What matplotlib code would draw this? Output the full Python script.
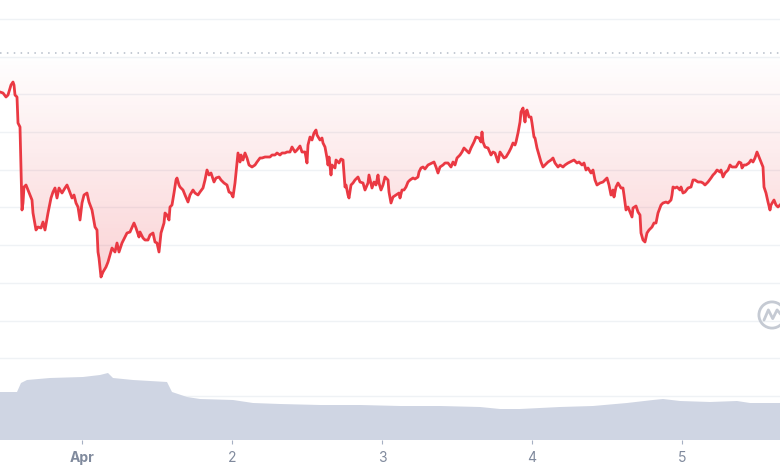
import numpy as np
import matplotlib
matplotlib.use('Agg')
import matplotlib.pyplot as plt
from matplotlib.colors import LinearSegmentedColormap
from matplotlib.patches import Circle

# price series, hours since Apr 1 00:00
hours = [
    -13.12, -12.64, -12.16, -11.84, -11.36, -11.04, -10.88, -10.72, -10.40, -10.24,
    -9.92, -9.76, -9.60, -9.44, -9.28, -8.96, -8.64, -8.00, -7.84, -7.36,
    -7.04, -6.56, -6.24, -5.92, -5.44, -4.96, -4.64, -4.32, -4.00, -3.68,
    -3.20, -2.72, -2.40, -2.08, -1.60, -1.28, -0.96, -0.64, -0.32, 0.00,
    0.32, 0.80, 1.12, 1.60, 2.08, 2.40, 2.56, 2.72, 3.04, 3.36,
    3.84, 4.16, 4.80, 5.28, 5.60, 5.92, 6.40, 6.88, 7.20, 7.68,
    8.32, 8.64, 9.12, 9.28, 9.76, 10.08, 10.56, 10.88, 11.36, 11.68,
    12.00, 12.32, 12.64, 13.12, 13.28, 13.60, 13.92, 14.08, 14.40, 14.72,
    15.04, 15.20, 15.52, 15.68, 16.16, 16.48, 16.96, 17.28, 17.76, 18.08,
    18.56, 18.88, 19.36, 19.68, 20.00, 20.32, 20.64, 21.12, 21.44, 21.92,
    22.24, 22.72, 23.20, 23.52, 23.84, 24.16, 24.48, 24.80, 24.96, 25.28,
    25.44, 25.76, 26.08, 26.40, 26.72, 27.20, 27.68, 28.00, 28.48, 28.80,
    29.28, 29.60, 30.08, 30.40, 30.88, 31.20, 31.68, 32.00, 32.48, 32.80,
    33.28, 33.60, 34.08, 34.40, 34.88, 35.20, 35.68, 36.00, 36.16, 36.48,
    36.80, 37.12, 37.44, 37.60, 38.08, 38.40, 38.56, 38.88, 39.20, 39.36,
    39.52, 39.84, 40.00, 40.48, 40.64, 41.12, 41.44, 41.76, 42.08, 42.24,
    42.56, 42.72, 43.04, 43.36, 43.68, 44.16, 44.48, 44.96, 45.28, 45.76,
    45.92, 46.40, 46.72, 47.04, 47.36, 47.52, 47.84, 48.16, 48.48, 48.96,
    49.12, 49.44, 49.76, 50.24, 50.72, 50.88, 51.20, 51.52, 51.84, 52.16,
    52.48, 52.96, 53.28, 53.76, 53.92, 54.24, 54.56, 54.88, 55.36, 55.68,
    56.00, 56.32, 56.64, 56.96, 57.28, 57.76, 58.08, 58.56, 59.04, 59.36,
    59.68, 60.00, 60.48, 60.80, 61.12, 61.44, 61.92, 62.24, 62.72, 63.04,
    63.52, 63.84, 64.00, 64.16, 64.48, 64.96, 65.44, 65.76, 66.08, 66.56,
    66.88, 67.20, 67.52, 67.84, 68.32, 68.64, 68.96, 69.28, 69.44, 69.76,
    70.08, 70.24, 70.56, 70.88, 71.04, 71.20, 71.52, 71.84, 72.00, 72.32,
    72.48, 72.80, 73.12, 73.44, 73.76, 74.08, 74.56, 75.04, 75.36, 75.68,
    76.16, 76.48, 76.96, 77.28, 77.76, 78.40, 78.72, 79.20, 79.52, 80.00,
    80.32, 80.64, 80.96, 81.44, 81.76, 82.08, 82.40, 82.88, 83.36, 83.68,
    84.00, 84.32, 84.64, 84.96, 85.12, 85.44, 85.76, 86.24, 86.56, 86.72,
    87.04, 87.36, 87.68, 88.00, 88.16, 88.64, 88.96, 89.28, 89.44, 89.76,
    90.08, 90.40, 90.72, 91.20, 91.52, 91.84, 92.16, 92.64, 92.96, 93.44,
    93.76, 94.24, 94.40, 94.56, 94.88, 95.20, 95.68, 95.84, 96.16, 96.48,
    96.96, 97.44, 97.76, 98.08, 98.56, 99.04, 99.36, 99.68, 100.16, 100.64,
    100.96, 101.28, 101.60, 102.08, 102.24, 102.56, 102.88, 103.36, 103.68, 104.00,
    104.32, 104.64, 105.12, 105.44, 105.60, 105.92, 106.24, 106.72, 107.04, 107.36,
    107.68, 108.00, 108.32, 108.64, 108.96, 109.12, 109.44, 109.76, 110.08, 110.24,
    110.72, 111.04, 111.36, 111.68,
]
price = [
    1.348, 1.347, 1.343, 1.345, 1.355, 1.358, 1.355, 1.345, 1.343, 1.317,
    1.313, 1.270, 1.230, 1.237, 1.253, 1.255, 1.250, 1.240, 1.227, 1.210,
    1.213, 1.212, 1.218, 1.210, 1.227, 1.242, 1.248, 1.252, 1.242, 1.252,
    1.247, 1.252, 1.255, 1.250, 1.242, 1.245, 1.237, 1.233, 1.220, 1.237,
    1.245, 1.247, 1.238, 1.230, 1.213, 1.210, 1.188, 1.182, 1.163, 1.168,
    1.173, 1.178, 1.192, 1.188, 1.197, 1.188, 1.197, 1.203, 1.207, 1.208,
    1.217, 1.212, 1.203, 1.208, 1.202, 1.200, 1.200, 1.205, 1.207, 1.198,
    1.197, 1.188, 1.207, 1.217, 1.227, 1.225, 1.220, 1.233, 1.235, 1.247,
    1.260, 1.262, 1.255, 1.253, 1.250, 1.245, 1.238, 1.245, 1.250, 1.247,
    1.245, 1.248, 1.252, 1.260, 1.270, 1.265, 1.267, 1.258, 1.262, 1.263,
    1.260, 1.257, 1.255, 1.248, 1.247, 1.243, 1.257, 1.277, 1.287, 1.278,
    1.285, 1.280, 1.287, 1.282, 1.275, 1.273, 1.275, 1.278, 1.282, 1.282,
    1.283, 1.283, 1.283, 1.285, 1.285, 1.287, 1.285, 1.287, 1.287, 1.288,
    1.288, 1.293, 1.288, 1.290, 1.294, 1.288, 1.288, 1.277, 1.295, 1.303,
    1.300, 1.307, 1.310, 1.305, 1.300, 1.302, 1.297, 1.293, 1.282, 1.275,
    1.283, 1.265, 1.275, 1.272, 1.280, 1.277, 1.281, 1.280, 1.253, 1.255,
    1.245, 1.242, 1.255, 1.257, 1.260, 1.263, 1.258, 1.257, 1.250, 1.257,
    1.265, 1.252, 1.258, 1.255, 1.265, 1.257, 1.250, 1.255, 1.263, 1.260,
    1.248, 1.237, 1.243, 1.245, 1.247, 1.242, 1.250, 1.250, 1.253, 1.258,
    1.260, 1.262, 1.261, 1.263, 1.268, 1.272, 1.273, 1.271, 1.275, 1.276,
    1.277, 1.278, 1.273, 1.267, 1.273, 1.275, 1.277, 1.277, 1.273, 1.278,
    1.275, 1.282, 1.285, 1.288, 1.292, 1.290, 1.287, 1.292, 1.298, 1.303,
    1.302, 1.298, 1.308, 1.298, 1.293, 1.292, 1.285, 1.288, 1.287, 1.278,
    1.288, 1.285, 1.282, 1.283, 1.288, 1.292, 1.297, 1.295, 1.298, 1.307,
    1.318, 1.328, 1.332, 1.318, 1.328, 1.330, 1.323, 1.323, 1.317, 1.303,
    1.302, 1.292, 1.285, 1.278, 1.273, 1.275, 1.278, 1.280, 1.282, 1.277,
    1.273, 1.275, 1.273, 1.275, 1.277, 1.279, 1.280, 1.277, 1.278, 1.275,
    1.277, 1.270, 1.272, 1.267, 1.270, 1.260, 1.255, 1.257, 1.258, 1.260,
    1.262, 1.255, 1.245, 1.250, 1.243, 1.253, 1.257, 1.252, 1.252, 1.245,
    1.230, 1.233, 1.228, 1.223, 1.232, 1.234, 1.228, 1.225, 1.207, 1.200,
    1.198, 1.207, 1.210, 1.213, 1.217, 1.217, 1.227, 1.235, 1.237, 1.238,
    1.237, 1.240, 1.245, 1.253, 1.252, 1.253, 1.250, 1.253, 1.247, 1.248,
    1.252, 1.253, 1.260, 1.260, 1.258, 1.258, 1.257, 1.255, 1.258, 1.262,
    1.265, 1.267, 1.270, 1.268, 1.270, 1.263, 1.267, 1.270, 1.275, 1.273,
    1.273, 1.273, 1.278, 1.277, 1.272, 1.275, 1.275, 1.277, 1.280, 1.278,
    1.282, 1.288, 1.283, 1.278, 1.273, 1.253, 1.247, 1.238, 1.230, 1.235,
    1.240, 1.235, 1.233, 1.235,
]
open_price = 1.387  # dotted reference line

# volume series (millions)
vol_hours = [-13.12, -10.40, -9.76, -8.80, -5.12, 0.16, 2.88, 4.16, 4.96, 8.16,
             13.60, 14.40, 16.80, 18.88, 24.16, 27.36, 31.68, 38.08, 44.48, 50.88,
             57.28, 63.68, 66.88, 70.08, 73.28, 76.48, 81.76, 87.20, 91.36, 92.96,
             95.68, 100.48, 104.80, 106.88, 111.68]
volume = [48, 48, 57, 60, 62, 63, 65, 67, 62, 60,
          58, 48, 43, 41, 40, 37, 36, 35, 35, 34,
          34, 33, 31, 31, 32, 33, 34, 37, 40, 41,
          39, 38, 39, 37, 37]

tick_hours = [0, 24, 48, 72, 96]
tick_labels = ['Apr', '2', '3', '4', '5']

RED = '#ea3943'
GRAY = '#808a9d'

plt.rcParams['font.family'] = ['Inter', 'DejaVu Sans']

fig = plt.figure(figsize=(7.8, 4.7), dpi=100)
ax = fig.add_axes([0, 30 / 470, 1, 440 / 470])

# horizontal grid
for lvl in np.arange(1.044, 1.43, 0.0377):
    ax.axhline(lvl, color='#eff2f5', lw=1, zorder=0)
ax.axhline(open_price, color='#b4bcc8', lw=1.1, ls=(0, (1, 3.5)), zorder=1)

# gradient fill between price and open line
t = np.array(hours)
p = np.array(price)
poly = ax.fill_between(t, p, open_price, color='none', lw=0)
cmap = LinearSegmentedColormap.from_list('redfade', [(0.918, 0.224, 0.263, 0.0),
                                                      (0.918, 0.224, 0.263, 0.22)])
grad = np.linspace(0, 1, 256).reshape(-1, 1)
img = ax.imshow(grad, extent=[t.min(), t.max(), p.min(), open_price], origin='upper',
                cmap=cmap, aspect='auto', zorder=1, interpolation='bilinear')
img.set_clip_path(poly.get_paths()[0], transform=ax.transData)
ax.set_xlim(-13.12, 111.68)
ax.set_ylim(1.0, 1.44)

ax.plot(t, p, color=RED, lw=2.0, zorder=3, solid_joinstyle='round')

ax.set_xticks(tick_hours, tick_labels)
ax.tick_params(axis='x', length=3, width=0.8, color='#a6b0c3', labelcolor=GRAY,
               labelsize=10, pad=5)
ax.get_xticklabels()[0].set_fontweight('bold')
ax.set_yticks([])
for s in ax.spines.values():
    s.set_visible(False)

# volume area
ax2 = ax.twinx()
ax2.fill_between(vol_hours, volume, 0, color='#cfd5e3', lw=0)
ax2.set_ylim(0, 440)
ax2.set_yticks([])
for s in ax2.spines.values():
    s.set_visible(False)

# watermark logo
wm = fig.add_axes([756 / 780, (470 - 331) / 470, 32 / 780, 32 / 470])
wm.set_xlim(-1.1, 1.1)
wm.set_ylim(-1.1, 1.1)
wm.add_patch(Circle((0, 0), 0.9, fill=False, ec='#c5cad3', lw=2))
wm.plot([-0.55, -0.25, 0.05, 0.35, 0.6], [-0.35, 0.35, -0.25, 0.35, 0.05],
        color='#c5cad3', lw=2, solid_capstyle='round')
wm.axis('off')

fig.savefig('out.png', dpi=100, facecolor='white')
